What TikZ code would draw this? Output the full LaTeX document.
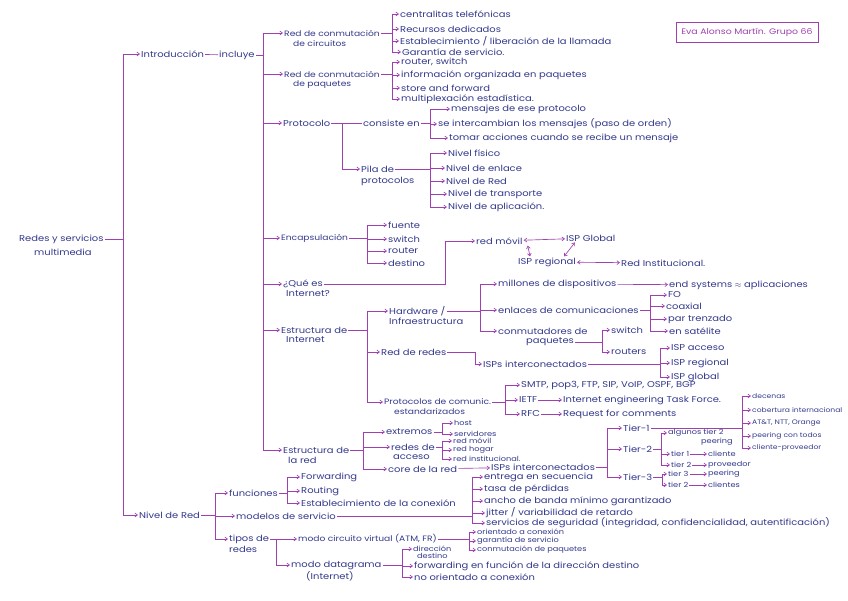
\documentclass[tikz,border=0pt]{standalone}
\usepackage{fontspec}
\setmainfont{Poppins}[FakeStretch=1.17]
\usepackage{tikz}
\usetikzlibrary{arrows.meta,positioning,calc}
\definecolor{ink}{RGB}{52,58,140}
\definecolor{pen}{RGB}{160,64,176}

% parent -> vertical bar at x=#2 -> arrows to children #3
\newcommand{\fork}[3]{%
  \foreach \k [count=\n] in {#3} {%
    \ifnum\n=1 \xdef\forktop{\k}\fi
    \xdef\forkbot{\k}%
    \draw[arr] (#2,0 |- \k.west) -- (\k.west);
  }%
  \draw[lnk] (#2,0 |- \forktop.west) -- (#2,0 |- \forkbot.west);
  \draw[lnk] (#1.east) -- (#2,0 |- #1.east);
}

\begin{document}
\begin{tikzpicture}[
    x=1pt, y=-1pt,
    txt/.style={anchor=west, inner sep=1pt, text=ink, font=\fontsize{8.5}{9}\selectfont},
    small/.style={txt, font=\fontsize{7}{7}\selectfont},
    tiny/.style={txt, font=\fontsize{6.5}{7}\selectfont},
    narrow/.style={txt, font=\fontsize{7.8}{9}\selectfont},
    lnk/.style={pen, line width=0.65pt},
    arr/.style={lnk, -{Straight Barb[length=2.6pt,width=3.8pt]}},
    dbl/.style={lnk, {Straight Barb[length=2.6pt,width=3.8pt]}-{Straight Barb[length=2.6pt,width=3.8pt]}},
    namebox/.style={draw=pen, line width=0.8pt, text=pen, minimum width=142pt,
        minimum height=20pt, inner sep=2pt, font=\fontsize{8}{9}\selectfont}
]
\path[use as bounding box, fill=white] (0,0) rectangle (848,600);

\node[namebox] (autor) at (747,32) {Eva Alonso Martín. Grupo 66};

% root
\node[txt] (root1) at (18,239) {Redes y servicios};
\node[txt] (root2) at (33,252) {multimedia};
\node[txt] (intro) at (140,54) {Introducción};
\node[txt] (incl) at (218,55) {incluye};
\node[txt] (nivel) at (138,515) {Nivel de Red};
\fork{root1}{123}{intro,nivel}
\draw[lnk] (intro) -- (incl);

% introduccion
\node[narrow] (rcc1) at (283,33) {Red de conmutación};
\node[narrow] (rcc2) at (292,44) {de circuitos};
\node[narrow] (rcp1) at (283,74) {Red de conmutación};
\node[narrow] (rcp2) at (292,85) {de paquetes};
\node[txt] (proto) at (282,123) {Protocolo};
\node[narrow] (encap) at (280,238) {Encapsulación};
\node[txt] (qi1) at (282,284) {¿Qué es};
\node[txt] (qi2) at (285,294) {Internet?};
\node[txt] (ei1) at (280,330) {Estructura de};
\node[txt] (ei2) at (285,340) {Internet};
\node[txt] (er1) at (282,450) {Estructura de};
\node[txt] (er2) at (287,460) {la red};
\fork{incl}{263}{rcc1,rcp1,proto,encap,qi1,ei1,er1}

% conmutacion de circuitos
\node[txt] (cent) at (399,14) {centralitas telefónicas};
\node[txt] (recd) at (399,29) {Recursos dedicados};
\node[txt] (estl) at (399,41) {Establecimiento / liberación de la llamada};
\node[txt] (gar) at (401,52) {Garantía de servicio.};
\fork{rcc1}{392}{cent,recd,estl,gar}

% conmutacion de paquetes
\node[txt] (rsw) at (400,62) {router, switch};
\node[txt] (info) at (400,75) {información organizada en paquetes};
\node[txt] (saf) at (400,88) {store and forward};
\node[txt] (mult) at (400,99) {multiplexación estadística.};
\fork{rcp1}{392}{rsw,info,saf,mult}

% protocolo
\node[txt] (cons) at (362,123) {consiste en};
\node[txt] (mens) at (450,109) {mensajes de ese protocolo};
\node[txt] (inter) at (437,124) {se intercambian los mensajes (paso de orden)};
\node[txt] (toma) at (448,138) {tomar acciones cuando se recibe un mensaje};
\draw[lnk] (proto) -- (cons);
\fork{cons}{430}{mens,inter,toma}

\node[txt] (pila1) at (360,169) {Pila de};
\node[txt] (pila2) at (360,181) {protocolos};
\draw[arr] (342,0 |- proto.east) |- (pila1.west);
\node[txt] (nfis) at (447,153) {Nivel físico};
\node[txt] (nenl) at (445,168) {Nivel de enlace};
\node[txt] (nred) at (445,181) {Nivel de Red};
\node[txt] (ntra) at (447,194) {Nivel de transporte};
\node[txt] (napl) at (447,207) {Nivel de aplicación.};
\fork{pila1}{430}{nfis,nenl,nred,ntra,napl}

% encapsulacion
\node[txt] (fue) at (387,225) {fuente};
\node[txt] (swi) at (387,239) {switch};
\node[txt] (rou) at (387,251) {router};
\node[txt] (des) at (387,263) {destino};
\fork{encap}{367}{fue,swi,rou,des}

% que es internet
\node[txt] (redmov) at (475,241) {red móvil};
\node[txt] (ispglob) at (565,238) {ISP Global};
\node[txt] (ispreg) at (517,262) {ISP regional};
\node[txt] (redinst) at (620,263) {Red Institucional.};
\draw[arr] (qi1.east) -- (445,0 |- qi1.east) |- (redmov.west);
\draw[dbl] (redmov) -- (ispglob);
\draw[dbl] (ispreg) -- (redinst);
\draw[dbl] ([xshift=4pt]redmov.south east) -- ([xshift=13pt]ispreg.north west);
\draw[dbl] ([xshift=10pt]ispglob.south west) -- ([xshift=-13pt]ispreg.north east);

% estructura de internet
\node[txt] (hw1) at (388,311) {Hardware /};
\node[txt] (hw2) at (388,321) {Infraestructura};
\node[txt] (rdr) at (380,352) {Red de redes};
\node[narrow] (pc1) at (383,402) {Protocolos de comunic.};
\node[narrow] (pc2) at (393,412) {estandarizados};
\fork{ei1}{367}{hw1,rdr,pc1}

\node[txt] (mill) at (497,284) {millones de dispositivos};
\node[txt] (enl) at (497,310) {enlaces de comunicaciones};
\node[txt] (cdp1) at (497,331) {conmutadores de};
\node[txt] (cdp2) at (525,342) {paquetes};
\fork{hw1}{480}{mill,enl,cdp1}
\node[txt] (endsys) at (668,285) {end systems $\approx$ aplicaciones};
\draw[arr] (mill) -- (endsys);

\node[txt] (fo) at (667,295) {FO};
\node[txt] (coax) at (665,306) {coaxial};
\node[txt] (par) at (667,319) {par trenzado};
\node[txt] (sat) at (668,331) {en satélite};
\fork{enl}{650}{fo,coax,par,sat}

\node[txt] (swB) at (610,330) {switch};
\node[txt] (routers) at (610,352) {routers};
\fork{cdp2}{602}{swB,routers}

\node[txt] (ispsA) at (482,364) {ISPs interconectados};
\draw[arr] (rdr.east) -- (475,0 |- rdr.east) |- (ispsA.west);
\node[txt] (ispacc) at (670,348) {ISP acceso};
\node[txt] (ispregB) at (670,363) {ISP regional};
\node[txt] (ispglobB) at (670,377) {ISP global};
\fork{ispsA}{660}{ispacc,ispregB,ispglobB}

\node[txt] (smtp) at (520,385) {SMTP, pop3, FTP, SIP, VoIP, OSPF, BGP};
\node[txt] (ietf) at (518,400) {IETF};
\node[txt] (ietfd) at (562,400) {Internet engineering Task Force.};
\node[txt] (rfc) at (520,414) {RFC};
\node[txt] (rfcd) at (562,414) {Request for comments};
\fork{pc1}{505}{smtp,ietf,rfc}
\draw[arr] (ietf) -- (ietfd);
\draw[arr] (rfc) -- (rfcd);

% estructura de la red
\node[txt] (ext) at (385,432) {extremos};
\node[txt] (ra1) at (390,447) {redes de};
\node[txt] (ra2) at (392,457) {acceso};
\node[txt] (core) at (387,469) {core de la red};
\fork{er1}{363}{ext,ra1,core}

\node[small] (host) at (453,423) {host};
\node[small] (serv) at (453,434) {servidores};
\fork{ext}{442}{host,serv}
\node[small] (rmov) at (452,441) {red móvil};
\node[small] (rhog) at (452,450) {red hogar};
\node[small] (rinst) at (452,459) {red institucional.};
\fork{ra1}{442}{rmov,rhog,rinst}

\node[txt] (ispsB) at (490,467) {ISPs interconectados};
\draw[arr] (core) -- (ispsB);
\node[txt] (t1) at (622,428) {Tier-1};
\node[txt] (t2) at (622,449) {Tier-2};
\node[txt] (t3) at (622,477) {Tier-3};
\fork{ispsB}{607}{t1,t2,t3}

\node[tiny] (dec) at (751,396) {decenas};
\node[tiny] (cob) at (751,410) {cobertura internacional};
\node[tiny] (att) at (751,423) {AT\&T, NTT, Orange};
\node[tiny] (peer) at (751,436) {peering con todos};
\node[tiny] (clp) at (751,448) {cliente-proveedor};
\fork{t1}{742}{dec,cob,att,peer,clp}

\node[small] (alg1) at (667,433) {algunos tier 2};
\node[small] (alg2) at (700,442) {peering};
\node[small] (t21) at (670,454) {tier 1};
\node[small] (t21d) at (707,454) {cliente};
\node[small] (t22) at (670,465) {tier 2};
\node[small] (t22d) at (707,465) {proveedor};
\fork{t2}{661}{alg1,t21,t22}
\draw[arr] (t21) -- (t21d);
\draw[arr] (t22) -- (t22d);

\node[small] (t31) at (667,474) {tier 3};
\node[small] (t31d) at (707,474) {peering};
\node[small] (t32) at (667,485) {tier 2};
\node[small] (t32d) at (707,485) {clientes};
\fork{t3}{662}{t31,t32}
\draw[arr] (t31) -- (t31d);
\draw[arr] (t32) -- (t32d);

% nivel de red
\node[txt] (fun) at (228,493) {funciones};
\node[txt] (mod) at (235,516) {modelos de servicio};
\node[txt] (tip1) at (228,539) {tipos de};
\node[txt] (tip2) at (228,549) {redes};
\fork{nivel}{215}{fun,mod,tip1}

\node[txt] (fwd) at (300,477) {Forwarding};
\node[txt] (rtg) at (300,491) {Routing};
\node[txt] (estc) at (300,503) {Establecimiento de la conexión};
\fork{fun}{287}{fwd,rtg,estc}

\node[txt] (ent) at (483,477) {entrega en secuencia};
\node[txt] (tasa) at (483,489) {tasa de pérdidas};
\node[txt] (anch) at (483,501) {ancho de banda mínimo garantizado};
\node[txt] (jit) at (485,513) {jitter / variabilidad de retardo};
\node[txt] (seg) at (485,523) {servicios de seguridad (integridad, confidencialidad, autentificación)};
\fork{mod}{472}{ent,tasa,anch,jit,seg}

\node[narrow] (mcv) at (297,539) {modo circuito virtual (ATM, FR)};
\node[txt] (mdg1) at (290,565) {modo datagrama};
\node[txt] (mdg2) at (305,576) {(Internet)};
\fork{tip1}{276}{mcv,mdg1}

\node[small] (ori) at (476,532) {orientado a conexión};
\node[small] (garB) at (476,541) {garantía de servicio};
\node[small] (conm) at (476,550) {conmutación de paquetes};
\fork{mcv}{469}{ori,garB,conm}

\node[small] (dir1) at (412,549) {dirección};
\node[small] (dir2) at (416,556) {destino};
\node[txt] (fwdB) at (413,566) {forwarding en función de la dirección destino};
\node[txt] (noor) at (413,577) {no orientado a conexión};
\fork{mdg1}{402}{dir1,fwdB,noor}

\end{tikzpicture}
\end{document}
